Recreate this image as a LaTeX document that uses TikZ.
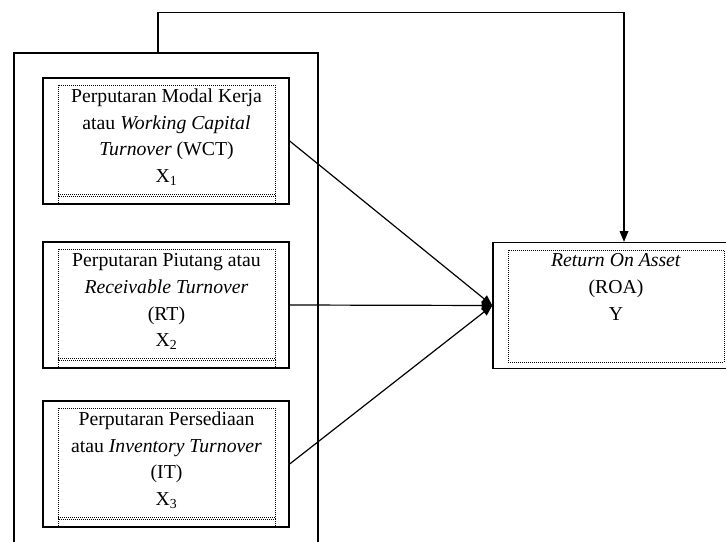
\documentclass[tikz,border=0pt]{standalone}
\usepackage{fontspec}
\setmainfont{Liberation Serif}
\usetikzlibrary{arrows.meta}

\tikzset{
  varbox/.style={draw, line width=1pt, minimum width=184.5pt, minimum height=94.5pt, inner sep=0pt},
  frame/.style={densely dotted, line width=0.5pt},
  lbl/.style={anchor=north, align=center, inner sep=0pt, font=\fontsize{14.8}{20}\selectfont},
  conn/.style={line width=0.9pt, -{Triangle[length=8pt,width=6.5pt]}}
}

\begin{document}
\begin{tikzpicture}[x=0.75pt,y=-0.75pt]
  \useasboundingbox (0,0) rectangle (726,542);
  \clip (0,0) rectangle (726,542);

  % kotak luar dan kotak variabel
  \node[draw, line width=1pt, minimum width=228pt, minimum height=370.5pt] (grp) at (166,300) {};
  \node[varbox] (wct) at (166,141) {};
  \node[varbox] (rt) at (166,305) {};
  \node[varbox] (it) at (166,464) {};
  \node[varbox, minimum width=196.5pt] (roa) at (624,305.5) {};

  % bingkai titik-titik
  \foreach \yy in {78,242,401} {
    \draw[frame] (58,\yy+7) rectangle (275,\yy+118);
    \draw[frame] (58,\yy+116) -- (275,\yy+116);
    \draw[frame] (58,\yy+118) -- (58,\yy+126);
    \draw[frame] (275,\yy+118) -- (275,\yy+126);
  }
  \draw[frame] (508,250) rectangle (724,362);

  \node[lbl] (wcttxt) at (166.5,88.5) {Perputaran Modal Kerja\\ atau \textit{Working Capital}\\ \textit{Turnover} (WCT)\\ X\textsubscript{1}};
  \node[lbl] (rttxt) at (166.5,253.5) {Perputaran Piutang atau\\ \textit{Receivable Turnover}\\ (RT)\\ X\textsubscript{2}};
  \node[lbl] (ittxt) at (166.5,411.5) {Perputaran Persediaan\\ atau \textit{Inventory Turnover}\\ (IT)\\ X\textsubscript{3}};
  \node[lbl] (roatxt) at (616,253.5) {\textit{Return On Asset}\\ (ROA)\\ Y};

  % panah
  \draw[conn] (wct.east) -- (roa.west);
  \draw[conn] (rt.east) -- (roa.west);
  \draw[conn] (it.east) -- (roa.west);
  \draw[conn] ([xshift=-6pt]grp.north) -- ++(0,-40) -| (roa.north);

\end{tikzpicture}
\end{document}
